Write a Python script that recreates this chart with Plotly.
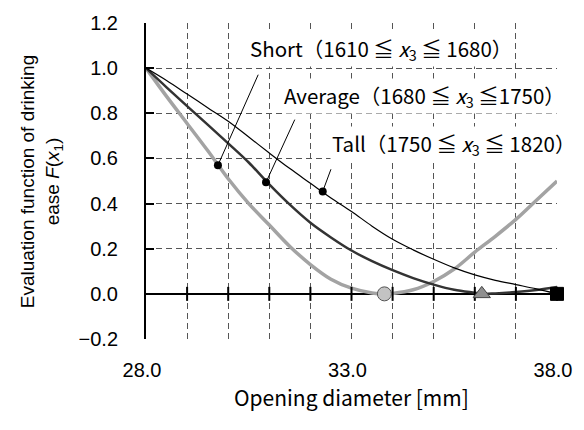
import plotly.graph_objects as go

# ---- data ----
x_short = [28.0, 28.5, 29.0, 29.5, 30.0, 30.5, 31.0, 31.5, 32.0, 32.5, 33.0, 33.5, 33.8, 34.0, 34.5, 35.0, 35.5, 36.0, 36.5, 37.0, 37.5, 38.0]
y_short = [1.00, 0.875, 0.755, 0.635, 0.51, 0.40, 0.305, 0.21, 0.13, 0.065, 0.025, 0.004, 0.0, 0.002, 0.018, 0.055, 0.11, 0.185, 0.255, 0.33, 0.415, 0.50]

x_avg = [28.0, 28.5, 29.0, 29.5, 30.0, 30.5, 31.0, 31.5, 32.0, 32.5, 33.0, 33.5, 34.0, 34.5, 35.0, 35.5, 36.0, 36.2, 36.5, 37.0, 37.5, 38.0]
y_avg = [1.00, 0.915, 0.832, 0.75, 0.667, 0.582, 0.485, 0.395, 0.315, 0.25, 0.192, 0.145, 0.105, 0.07, 0.041, 0.018, 0.005, 0.0, 0.002, 0.008, 0.017, 0.03]

x_tall = [28.0, 28.5, 29.0, 29.5, 30.0, 30.5, 31.0, 31.5, 32.0, 32.5, 33.0, 33.5, 34.0, 34.5, 35.0, 35.5, 36.0, 36.5, 37.0, 37.5, 38.0]
y_tall = [1.00, 0.945, 0.885, 0.825, 0.765, 0.695, 0.624, 0.555, 0.49, 0.425, 0.365, 0.30, 0.242, 0.195, 0.153, 0.115, 0.084, 0.06, 0.041, 0.022, 0.0]

# labelled points on each curve and leader-line ends
dot_x = [29.75, 30.92, 32.30]
dot_y = [0.57, 0.494, 0.454]
lead_x = [30.73, 31.62, 32.50]
lead_y = [0.971, 0.772, 0.552]

# optimum markers
opt_x = [33.8, 36.17, 38.0]
opt_y = [0.0, 0.0, 0.0]

labels = ["Short（1610 ≦ <i>x</i><sub>3</sub> ≦ 1680）",
          "Average（1680 ≦ <i>x</i><sub>3</sub> ≦1750）",
          "Tall（1750 ≦ <i>x</i><sub>3</sub> ≦ 1820）"]
label_x = [33.71, 34.77, 35.47]
label_y = [1.083, 0.876, 0.664]

x_ticks = list(range(28, 39))
x_ticktext = ["28.0" if v == 28 else "33.0" if v == 33 else "38.0" if v == 38 else "" for v in x_ticks]

fig = go.Figure()

fig.add_trace(go.Scatter(x=x_short, y=y_short, mode="lines", line=dict(color="#a3a3a3", width=3.5, shape="spline"), hoverinfo="skip"))
fig.add_trace(go.Scatter(x=x_avg, y=y_avg, mode="lines", line=dict(color="#333333", width=2.5, shape="spline"), hoverinfo="skip"))
fig.add_trace(go.Scatter(x=x_tall, y=y_tall, mode="lines", line=dict(color="#000000", width=1.2, shape="spline"), hoverinfo="skip"))

# leader lines
lx, ly = [], []
for a, b, c, d in zip(dot_x, dot_y, lead_x, lead_y):
    lx += [a, c, None]
    ly += [b, d, None]
fig.add_trace(go.Scatter(x=lx, y=ly, mode="lines", line=dict(color="#000000", width=1), hoverinfo="skip"))

fig.add_trace(go.Scatter(x=dot_x, y=dot_y, mode="markers", marker=dict(color="#000000", size=8), hoverinfo="skip"))

# zero-line tick marks
fig.add_trace(go.Scatter(x=x_ticks[1:], y=[0] * (len(x_ticks) - 1), mode="markers",
                         marker=dict(symbol="line-ns", size=10, line=dict(color="#000000", width=2)),
                         hoverinfo="skip", cliponaxis=False))

fig.add_trace(go.Scatter(x=[opt_x[0]], y=[opt_y[0]], mode="markers", cliponaxis=False,
                         marker=dict(symbol="circle", size=14, color="#c3c3c3", line=dict(color="#555555", width=1)), hoverinfo="skip"))
fig.add_trace(go.Scatter(x=[opt_x[1]], y=[opt_y[1]], mode="markers", cliponaxis=False,
                         marker=dict(symbol="triangle-up", size=15, color="#8f8f8f", line=dict(color="#444444", width=1)), hoverinfo="skip"))
fig.add_trace(go.Scatter(x=[opt_x[2]], y=[opt_y[2]], mode="markers", cliponaxis=False,
                         marker=dict(symbol="square", size=13, color="#000000", line=dict(color="#000000", width=1)), hoverinfo="skip"))

for t, xx, yy in zip(labels, label_x, label_y):
    fig.add_annotation(x=xx, y=yy, xref="x", yref="y", text=t, showarrow=False,
                       xanchor="center", yanchor="middle", bgcolor="#ffffff", borderpad=1,
                       font=dict(family="Noto Sans CJK JP", size=20.5, color="#000000"))

fig.add_annotation(x=-0.2548, y=0.5, xref="paper", yref="paper", textangle=-90, showarrow=False,
                   text="Evaluation function of drinking<br>ease <i>F</i>(<i>x</i><sub>1</sub>)",
                   xanchor="center", yanchor="middle",
                   font=dict(family="Liberation Sans, Arial", size=19, color="#000000"))
fig.add_annotation(x=0.499, y=-0.185, xref="paper", yref="paper", showarrow=False,
                   text="Opening diameter [mm]", xanchor="center", yanchor="middle",
                   font=dict(family="Noto Sans CJK JP", size=21, color="#000000"))

fig.update_layout(
    width=584, height=430,
    margin=dict(l=146, r=22, t=15, b=91),
    paper_bgcolor="#ffffff", plot_bgcolor="#ffffff",
    showlegend=False,
    xaxis=dict(range=[28, 38], tickvals=x_ticks, ticktext=x_ticktext,
               showgrid=True, gridcolor="#555555", gridwidth=1, griddash="6px,4px",
               showline=False, zeroline=False, ticks="", ticklabelstandoff=17, ticklabelshift=-4,
               tickfont=dict(family="Liberation Sans, Arial", size=20, color="#000000")),
    yaxis=dict(range=[-0.2, 1.2], tickvals=[-0.2, 0.0, 0.2, 0.4, 0.6, 0.8, 1.0, 1.2], tickformat=".1f",
               showgrid=True, gridcolor="#555555", gridwidth=1, griddash="6px,4px",
               showline=True, linecolor="#000000", linewidth=2,
               zeroline=True, zerolinecolor="#000000", zerolinewidth=2,
               ticks="inside", ticklen=8, tickwidth=2, tickcolor="#000000", ticklabelstandoff=22,
               tickfont=dict(family="Liberation Sans, Arial", size=20, color="#000000")),
)

fig.write_html("out.html")
